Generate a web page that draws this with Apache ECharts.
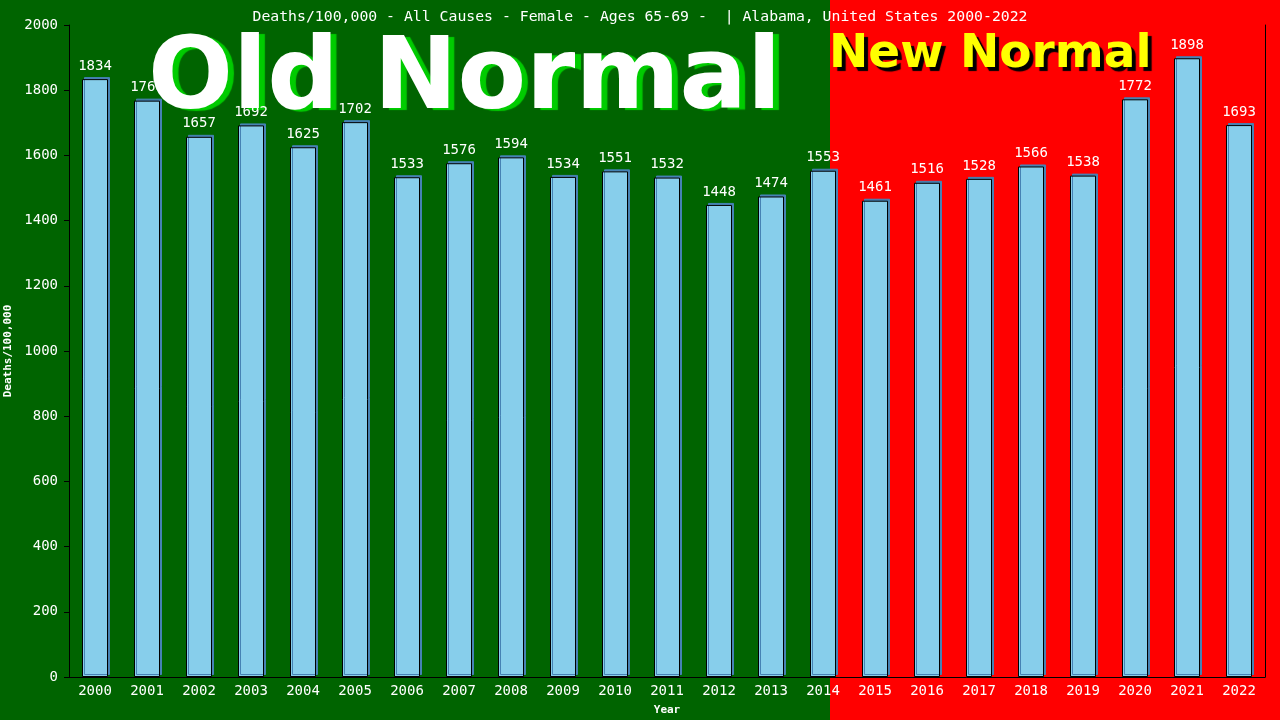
<!DOCTYPE html>
<html>
<head>
<meta charset="utf-8">
<script src="https://cdn.jsdelivr.net/npm/echarts@6/dist/echarts.min.js"></script>
<style>
  html, body { margin: 0; padding: 0; background: #006400; }
  #main { width: 1280px; height: 720px; }
</style>
</head>
<body>
<div id="main"></div>
<script>
var years = ['2000', '2001', '2002', '2003', '2004', '2005', '2006', '2007', '2008', '2009', '2010', '2011',
  '2012', '2013', '2014', '2015', '2016', '2017', '2018', '2019', '2020', '2021', '2022'];
var deaths = [1834, 1768, 1657, 1692, 1625, 1702, 1533, 1576, 1594, 1534, 1551, 1532,
  1448, 1474, 1553, 1461, 1516, 1528, 1566, 1538, 1772, 1898, 1693];
var titleText = 'Deaths/100,000 - All Causes - Female - Ages 65-69 -  | Alabama, United States 2000-2022';

var mono = '"DejaVu Sans Mono", monospace';
var chart = echarts.init(document.getElementById('main'));

var option = {
  animation: false,
  backgroundColor: '#006400',
  title: {
    text: titleText,
    left: 'center',
    top: 5,
    textStyle: { color: '#fff', fontFamily: mono, fontSize: 14.8, fontWeight: 'normal' }
  },
  graphic: [
    // green / red background halves
    { type: 'rect', z: -10, silent: true, shape: { x: 0, y: 0, width: 830, height: 720 }, style: { fill: '#006400' } },
    { type: 'rect', z: -10, silent: true, shape: { x: 830, y: 0, width: 450, height: 720 }, style: { fill: '#ff0000' } },
    {
      type: 'text', z: -5, left: 148, top: 32, silent: true,
      style: {
        text: 'Old Normal', fill: '#fff',
        font: 'bold 100px "DejaVu Sans", Verdana, sans-serif',
        textShadowColor: '#00cc00', textShadowOffsetX: 6, textShadowOffsetY: 2, textShadowBlur: 1
      }
    },
    {
      type: 'text', z: -5, left: 829, top: 31, silent: true,
      style: {
        text: 'New Normal', fill: '#ffff00',
        font: 'bold 47px "DejaVu Sans", Verdana, sans-serif',
        textShadowColor: '#000', textShadowOffsetX: 4, textShadowOffsetY: 4, textShadowBlur: 1
      }
    }
  ],
  grid: { left: 69, right: 15, top: 25, bottom: 43, containLabel: false, outerBoundsMode: 'none' },
  xAxis: {
    type: 'category',
    data: years,
    name: 'Year',
    nameLocation: 'middle',
    nameGap: 28,
    nameTextStyle: { color: '#fff', fontFamily: mono, fontSize: 11, fontWeight: 'bold' },
    axisLine: { lineStyle: { color: '#000', width: 1 } },
    axisTick: { show: false },
    axisLabel: { color: '#fff', fontFamily: mono, fontSize: 14, margin: 7, interval: 0 }
  },
  yAxis: [{
    type: 'value',
    min: 0,
    max: 2000,
    interval: 200,
    name: 'Deaths/100,000',
    nameLocation: 'middle',
    nameGap: 51,
    nameTextStyle: { color: '#fff', fontFamily: mono, fontSize: 11, fontWeight: 'bold' },
    axisLine: { show: true, lineStyle: { color: '#000', width: 1 } },
    axisTick: { show: true, length: 5, lineStyle: { color: '#000' } },
    axisLabel: { color: '#fff', fontFamily: mono, fontSize: 14, margin: 11, formatter: function (v) { return String(v); } },
    splitLine: { show: false }
  }, {
    type: 'value',
    position: 'right',
    min: 0,
    max: 2000,
    interval: 200,
    axisLine: { show: true, lineStyle: { color: '#000', width: 1 } },
    axisTick: { show: false },
    axisLabel: { show: false },
    splitLine: { show: false }
  }],
  series: [{
    type: 'bar',
    data: deaths,
    barWidth: 26,
    itemStyle: {
      color: '#87ceeb',
      borderColor: '#000',
      borderWidth: 1,
      shadowColor: '#4682b4',
      shadowOffsetX: 2,
      shadowOffsetY: -2,
      shadowBlur: 0
    },
    label: {
      show: true,
      position: 'top',
      distance: 6,
      color: '#fff',
      fontFamily: mono,
      fontSize: 14
    }
  }]
};

chart.setOption(option);
</script>
</body>
</html>
